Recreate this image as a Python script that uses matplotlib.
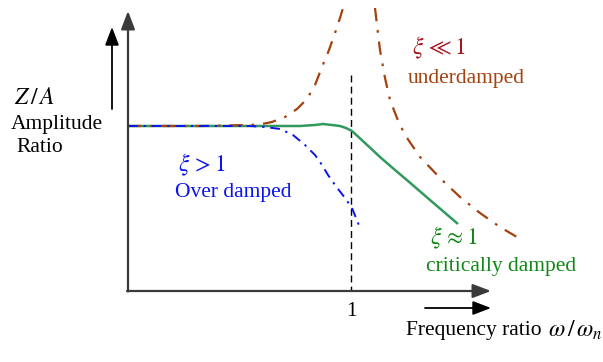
import numpy as np
import matplotlib.pyplot as plt

# curves in drawing units (x right, y down)
under_rise_x = [128, 200, 250, 262, 272, 285, 297, 307, 315, 322, 329, 335, 340, 343]
under_rise_y = [126, 126, 125, 124, 122, 117, 109, 99, 85, 67, 50, 33, 18, 8]
under_fall_x = [375, 377, 380, 385, 390, 397, 405, 420, 442, 460, 480, 500, 522]
under_fall_y = [8, 25, 50, 78, 100, 118, 135, 157, 180, 197, 213, 227, 240]

over_x = [128, 250, 265, 280, 293, 305, 315, 322, 328, 335, 345, 352, 360]
over_y = [126, 126, 127, 129, 135, 145, 155, 165, 175, 185, 198, 208, 228]

crit_x = [128, 300, 315, 323, 332, 340, 346, 352, 365, 380, 395, 408, 430, 458]
crit_y = [126, 126, 125, 124, 125, 126, 128, 131, 143, 157, 170, 181, 200, 224]

resonance_x = 351
tick_label = "1"

brown = "#a3420f"
blue = "#0a14f0"
green = "#2f9a5c"
green_txt = "#12871a"
red_txt = "#a8141c"

plt.rcParams['font.family'] = ['Liberation Serif', 'DejaVu Serif']
plt.rcParams['mathtext.fontset'] = 'stix'

fig = plt.figure(figsize=(6.03, 3.62), dpi=100)
ax = fig.add_axes([0, 0, 1, 1])
ax.set_xlim(0, 603)
ax.set_ylim(362, 0)
ax.axis('off')

def arrow(x0, y0, x1, y1, lw=1.5, col='k'):
    ax.annotate('', xy=(x1, y1), xytext=(x0, y0),
                arrowprops=dict(arrowstyle='-|>,head_length=1.1,head_width=0.42',
                                lw=lw, color=col, shrinkA=0, shrinkB=0))

# axes with arrowheads
arrow(128, 291.5, 128, 11, lw=1.6, col='#3a3a3a')
arrow(127, 291, 491, 291, lw=1.6, col='#3a3a3a')
arrow(112, 109, 112, 27, lw=1.3)
arrow(425, 308, 491, 308, lw=1.3)

ax.plot([resonance_x, resonance_x], [75, 291], color='k', lw=1.0, ls=(0, (5, 3)))

ax.plot(crit_x, crit_y, color=green, lw=1.8, solid_capstyle='butt')
ax.plot(under_rise_x, under_rise_y, color=brown, lw=1.6, ls=(0, (6, 4, 1.2, 4)))
ax.plot(under_fall_x, under_fall_y, color=brown, lw=1.6, ls=(0, (6, 4, 1.2, 4)))
ax.plot(over_x, over_y, color=blue, lw=1.4, ls=(0, (5, 3, 1.2, 3)))

fs = 15.5
ms = 17
ax.text(14, 98, r'$Z\,/\,A$', fontsize=ms, va='center', ha='left')
ax.text(11, 124, 'Amplitude', fontsize=fs, va='center', ha='left')
ax.text(16, 147, 'Ratio', fontsize=fs, va='center', ha='left')

ax.text(178, 165, r'$\xi\,>1$', fontsize=ms, color=blue, va='center', ha='left')
ax.text(175, 193, 'Over damped', fontsize=fs, color=blue, va='center', ha='left')

ax.text(412, 48, r'$\xi\,\ll 1$', fontsize=ms, color=red_txt, va='center', ha='left')
ax.text(408, 78, 'underdamped', fontsize=fs, color=brown, va='center', ha='left')

ax.text(430, 238, r'$\xi\,\approx 1$', fontsize=ms, color=green_txt, va='center', ha='left')
ax.text(426, 267, 'critically damped', fontsize=fs, color=green_txt, va='center', ha='left')

ax.text(resonance_x, 312, tick_label, fontsize=fs, va='center', ha='center')
ax.text(406, 330, 'Frequency ratio', fontsize=fs, va='center', ha='left')
ax.text(602, 330, r'$\omega\,/\,\omega_n$', fontsize=ms, va='center', ha='right')

fig.savefig('out.png', dpi=100)
